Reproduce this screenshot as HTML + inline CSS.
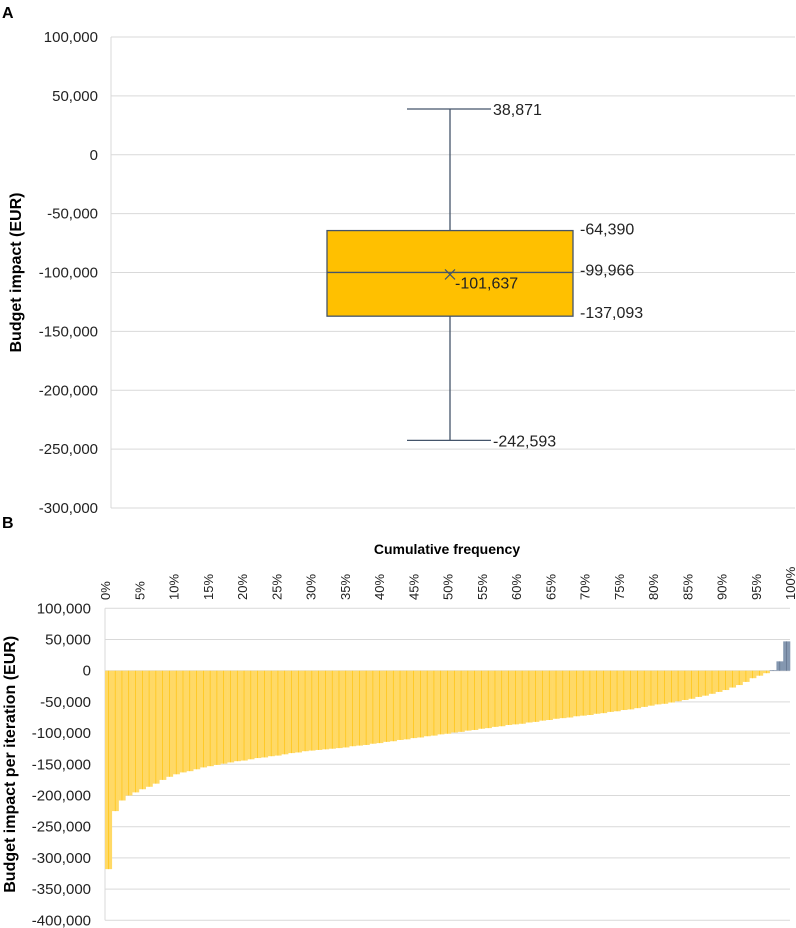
<!DOCTYPE html>
<html><head><meta charset="utf-8"><style>
body{margin:0;background:#fff;}
svg{display:block;font-family:"Liberation Sans",Arial,sans-serif;}
</style></head><body>
<svg id="chart" width="796" height="928" viewBox="0 0 796 928">
<text x="2" y="18" font-size="16" font-weight="bold">A</text>
<text x="2" y="528" font-size="16" font-weight="bold">B</text>
<g id="pa"></g>
<g id="pb"></g>
</svg>
<script>
const aTicks=[100000,50000,0,-50000,-100000,-150000,-200000,-250000,-300000];
const boxStats=[38871,-64390,-99966,-137093,-242593];
const boxMean=[-101637];
const bTicks=[100000,50000,0,-50000,-100000,-150000,-200000,-250000,-300000,-350000,-400000];
const pctLabels=[0,5,10,15,20,25,30,35,40,45,50,55,60,65,70,75,80,85,90,95,100];
const iterValues=[-318000,-225000,-208000,-200000,-195000,-190000,-186000,-181000,-175000,-170000,-166000,-163000,-161000,-158000,-155000,-153000,-151000,-149000,-147000,-145000,-144000,-142000,-140000,-139000,-137000,-136000,-134000,-132000,-131000,-129000,-128000,-127000,-126000,-125000,-124000,-123000,-121000,-120000,-119000,-117000,-116000,-114000,-113000,-111000,-110000,-108000,-107000,-105000,-104000,-102000,-101000,-99000,-98000,-96000,-95000,-93000,-92000,-90000,-89000,-87000,-86000,-85000,-83000,-82000,-80000,-79000,-77000,-76000,-75000,-73000,-72000,-71000,-69000,-68000,-66000,-65000,-63000,-62000,-60000,-58000,-56000,-54000,-53000,-51000,-49000,-47000,-45000,-42000,-40000,-37000,-34000,-31000,-27000,-23000,-18000,-12000,-8000,-4000,1000,15000,47000];

const NS="http://www.w3.org/2000/svg";
function mk(parent,tag,attrs,text){const e=document.createElementNS(NS,tag);for(const k in attrs)e.setAttribute(k,attrs[k]);if(text!==undefined)e.textContent=text;parent.appendChild(e);return e;}
const fmt=v=>v.toLocaleString('en-US');

// Panel A
const pa=document.getElementById('pa');
const aL=111,aR=795,aTop=37,aBot=508,aMax=100000,aMin=-300000;
const ya=v=>aTop+(aMax-v)/(aMax-aMin)*(aBot-aTop);
aTicks.forEach(t=>{
  const g=mk(pa,'line',{x1:aL,x2:aR,y1:ya(t),y2:ya(t),stroke:'#d9d9d9','stroke-width':1});
  
  
  const l=mk(pa,'text',{x:98,y:ya(t)+5,'font-size':15,'text-anchor':'end',fill:'#222'},fmt(t));
  
  
});
let ax=mk(pa,'line',{x1:aL,x2:aL,y1:aTop,y2:aBot,stroke:'#d9d9d9'});


let ta=mk(pa,'text',{x:0,y:0,'font-size':16,'font-weight':'bold','text-anchor':'middle',transform:`translate(21,${(aTop+aBot)/2}) rotate(-90)`},'Budget impact (EUR)');


const cx=450,bx1=327,bx2=573,cap1=407,cap2=491,st='#44546A';
const [wMax,q3,med,q1,wMin]=boxStats;
let w=mk(pa,'line',{x1:cx,x2:cx,y1:ya(wMax),y2:ya(wMin),stroke:st,'stroke-width':1.3});


[wMax,wMin].forEach(v=>{const c=mk(pa,'line',{x1:cap1,x2:cap2,y1:ya(v),y2:ya(v),stroke:st,'stroke-width':1.3});

});
let box=mk(pa,'rect',{x:bx1,y:ya(q3),width:bx2-bx1,height:ya(q1)-ya(q3),fill:'#FFC000',stroke:st,'stroke-width':1.3});


let md=mk(pa,'line',{x1:bx1,x2:bx2,y1:ya(med),y2:ya(med),stroke:st,'stroke-width':1.3});


const my=ya(boxMean[0]);
let mm=mk(pa,'path',{d:`M${cx-5},${my-5}L${cx+5},${my+5}M${cx-5},${my+5}L${cx+5},${my-5}`,stroke:st,'stroke-width':1.2});


const lab=(x,v,dy)=>{const t=mk(pa,'text',{x:x,y:ya(v)+dy,'font-size':16,fill:'#222'},fmt(v));

};
lab(493,wMax,6);lab(580,q3,4);lab(580,med,3);lab(580,q1,2);lab(493,wMin,6);
let mlab=mk(pa,'text',{x:455,y:my+14,'font-size':16,fill:'#222'},fmt(boxMean[0]));



// Panel B
const pb=document.getElementById('pb');
const bL=105,bR=790,bTop=608.3,bBot=920.3,bMax=100000,bMin=-400000;
const yb=v=>bTop+(bMax-v)/(bMax-bMin)*(bBot-bTop);
const xb=p=>bL+p/100*(bR-bL);
bTicks.forEach(t=>{
  const g=mk(pb,'line',{x1:bL,x2:bR,y1:yb(t),y2:yb(t),stroke:'#d9d9d9'});
  
  
  const l=mk(pb,'text',{x:91,y:yb(t)+5,'font-size':15,'text-anchor':'end',fill:'#222'},fmt(t));
  
  
});
let bx=mk(pb,'line',{x1:bL,x2:bL,y1:bTop,y2:bBot,stroke:'#d9d9d9'});


const n=iterValues.length,bw=(bR-bL)/n;
iterValues.forEach((v,i)=>{
  const x=bL+i*bw,y0=yb(0),y1=yb(v);
  const r=mk(pb,'rect',{x:x,y:Math.min(y0,y1),width:bw+0.3,height:Math.abs(y1-y0),fill:v>=0?'#8497B0':'#FFD966'});
  
  
  const s=mk(pb,'line',{x1:x+bw*0.5,x2:x+bw*0.5,y1:Math.min(y0,y1),y2:Math.max(y0,y1),stroke:v>=0?'#5b6b85':'#FFC000','stroke-width':0.6});
  
  
});
pctLabels.forEach(p=>{
  const t=mk(pb,'text',{x:0,y:0,'font-size':13,fill:'#222',transform:`translate(${xb(p)+5},${600}) rotate(-90)`},p+'%');
  
  
});
let xt=mk(pb,'text',{x:447,y:554,'font-size':14,'font-weight':'bold','text-anchor':'middle'},'Cumulative frequency');


let tb=mk(pb,'text',{x:0,y:0,'font-size':16,'font-weight':'bold','text-anchor':'middle',transform:`translate(15,${(bTop+bBot)/2}) rotate(-90)`},'Budget impact per iteration (EUR)');


</script>
</body></html>
